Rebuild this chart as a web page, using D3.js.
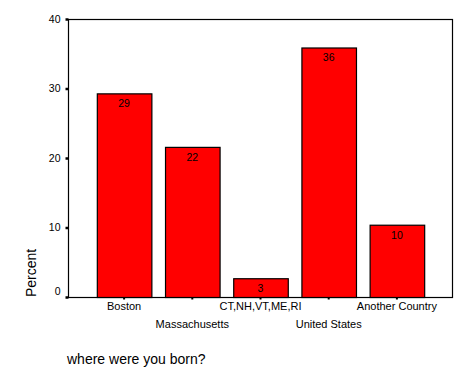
<!DOCTYPE html>
<html>
<head>
<meta charset="utf-8">
<script src="https://cdn.jsdelivr.net/npm/d3@7"></script>
<style>
  body { margin: 0; background: #fff; }
  svg text { font-family: "Liberation Sans", Arial, sans-serif; fill: #000; }
</style>
</head>
<body>
<div id="chart"></div>
<script>
// where were you born? (percent)
const categories = ["Boston", "Massachusetts", "CT,NH,VT,ME,RI", "United States", "Another Country"];
const percents = [29.3, 21.6, 2.7, 35.9, 10.4];
const yTicks = [0, 10, 20, 30, 40];

const svgWidth = 472;
const svgHeight = 377;
const frame = { left: 68, top: 19, right: 452, bottom: 297 };

const svg = d3.select("#chart")
    .append("svg")
    .attr("width", svgWidth)
    .attr("height", svgHeight);

const xScale = d3.scaleBand()
    .domain(categories)
    .range([90, 431])
    .paddingInner(0.2)
    .paddingOuter(0.1);

const yScale = d3.scaleLinear()
    .domain([0, 40])
    .range([frame.bottom, frame.top]);

// plot frame
svg.append("rect")
    .attr("x", frame.left + 0.5)
    .attr("y", frame.top + 0.5)
    .attr("width", frame.right - frame.left)
    .attr("height", frame.bottom - frame.top)
    .attr("fill", "none")
    .attr("stroke", "#000")
    .attr("stroke-width", 1.2);

// bars
svg.selectAll(".bar")
    .data(percents)
    .enter()
    .append("rect")
    .attr("class", "bar")
    .attr("x", (d, i) => xScale(categories[i]) + 0.5)
    .attr("y", d => yScale(d) + 0.5)
    .attr("width", xScale.bandwidth())
    .attr("height", d => frame.bottom - yScale(d))
    .attr("fill", "#ff0000")
    .attr("stroke", "#000")
    .attr("stroke-width", 1.2);

// value labels
svg.selectAll(".val")
    .data(percents)
    .enter()
    .append("text")
    .attr("class", "val")
    .attr("x", (d, i) => xScale(categories[i]) + xScale.bandwidth() / 2)
    .attr("y", d => yScale(d) + 14)
    .attr("text-anchor", "middle")
    .style("font-size", "10.5px")
    .text(d => Math.round(d));

// y axis
const yAxis = svg.append("g")
    .attr("class", "axis-y")
    .attr("transform", "translate(" + (frame.left + 0.5) + ",0)")
    .call(d3.axisLeft(yScale).tickValues(yTicks).tickSize(3).tickPadding(5));
yAxis.select(".domain").remove();
yAxis.selectAll(".tick line").attr("stroke-width", 2.5);
yAxis.selectAll("text")
    .style("font-size", "10.5px")
    .attr("dy", d => d === 0 ? "-0.2em" : "0.32em");

// x axis
const xAxis = svg.append("g")
    .attr("class", "axis-x")
    .attr("transform", "translate(0," + (frame.bottom + 0.5) + ")")
    .call(d3.axisBottom(xScale).tickSize(2).tickPadding(3));
xAxis.select(".domain").remove();
xAxis.selectAll(".tick line").attr("stroke-width", 2);
xAxis.selectAll("text")
    .style("font-size", "11px")
    .attr("dy", (d, i) => i % 2 === 0 ? "0.71em" : "2.35em");

// axis titles
svg.append("text")
    .attr("transform", "translate(36," + frame.bottom + ") rotate(-90)")
    .attr("text-anchor", "start")
    .style("font-size", "14px")
    .text("Percent");

svg.append("text")
    .attr("x", 67)
    .attr("y", 364)
    .style("font-size", "14px")
    .text("where were you born?");
</script>
</body>
</html>
